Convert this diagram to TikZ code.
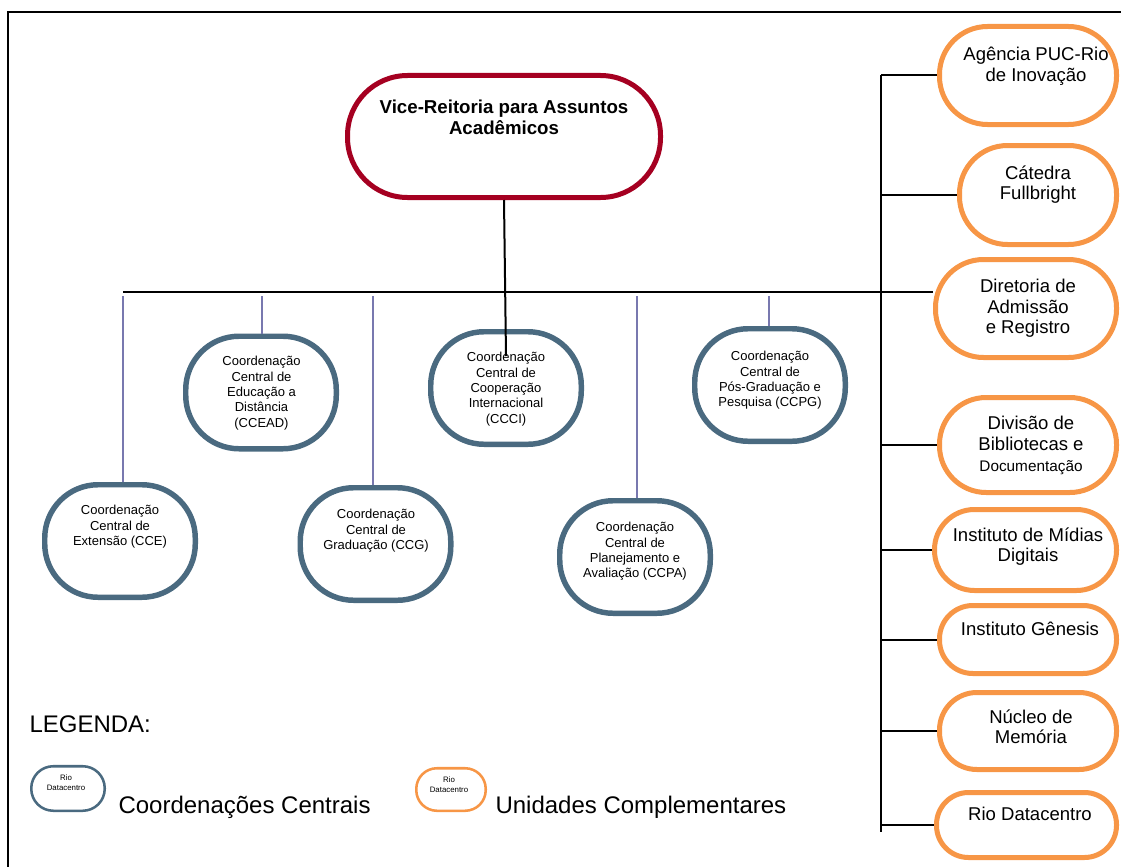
\documentclass[tikz,border=0pt]{standalone}
\usepackage{fontspec}
\setmainfont{Liberation Sans}

\tikzset{every picture/.style={line width=0.75pt}}
\tikzset{
  vrbox/.style={draw={rgb, 255:red, 165; green, 0; blue, 33 }, line width=3.75pt, fill=white, rounded corners=45pt, minimum width=234.75pt, minimum height=91.5pt, inner sep=0pt},
  ccbox/.style={draw={rgb, 255:red, 74; green, 106; blue, 128 }, line width=4.1pt, fill=white, rounded corners=40pt, minimum width=112.9pt, minimum height=84.4pt, inner sep=0pt},
  ucbox/.style={draw={rgb, 255:red, 247; green, 150; blue, 70 }, line width=3.75pt, fill=white, rounded corners=36pt, inner sep=0pt},
  vrtext/.style={anchor=north, inner sep=0pt, align=center, font=\bfseries\fontsize{14}{16.1}\selectfont},
  cctext/.style={anchor=north, inner sep=0pt, align=center, font=\fontsize{9.75}{11.5}\selectfont},
  uctext/.style={anchor=north, inner sep=0pt, align=center, font=\fontsize{13.9}{15.4}\selectfont},
  legtext/.style={anchor=base west, inner sep=0pt, font=\fontsize{18}{21}\selectfont},
  tinytext/.style={anchor=north, inner sep=0pt, align=center, font=\fontsize{5.9}{7.5}\selectfont},
  busline/.style={line width=1.5pt},
  branchline/.style={draw={rgb, 255:red, 120; green, 120; blue, 175 }, line width=1.1pt},
}

\begin{document}
\begin{tikzpicture}[x=0.75pt,y=0.75pt,yscale=-1,xscale=1]
\useasboundingbox (0,0) rectangle (1121,867);
\clip (0,0) rectangle (1121,867);

%Frame
\draw [line width=1.5pt] (8,12) rectangle (1140,890);

%Connector points
\coordinate (busL) at (123,292);
\coordinate (rtop) at (881,75);
\coordinate (rbot) at (881,832);
\coordinate (vend) at (506,356);

%Shape: Vice-Reitoria
\node [vrbox] (vra) at (504,136.5) {};

%Shapes: Coordenacoes Centrais
\node [ccbox] (cce) at (120,541) {};
\node [ccbox] (ccead) at (261,392.5) {};
\node [ccbox] (ccg) at (375.5,544) {};
\node [ccbox] (ccci) at (506,388) {};
\node [ccbox] (ccpa) at (635,557) {};
\node [ccbox] (ccpg) at (770,385) {};

%Shapes: Unidades Complementares
\node [ucbox, minimum width=132.75pt, minimum height=73.5pt] (age) at (1028,75.5) {};
\node [ucbox, minimum width=117.75pt, minimum height=74.25pt] (cat) at (1038,195) {};
\node [ucbox, minimum width=135.75pt, minimum height=73.5pt] (dar) at (1026,308.5) {};
\node [ucbox, minimum width=132.75pt, minimum height=71.25pt, rounded corners=35pt] (dbd) at (1028,445) {};
\node [ucbox, minimum width=136.5pt, minimum height=60.75pt, rounded corners=30pt] (imd) at (1025.5,550) {};
\node [ucbox, minimum width=132.75pt, minimum height=51pt, rounded corners=25pt] (ige) at (1028,639.5) {};
\node [ucbox, minimum width=132.75pt, minimum height=57.75pt, rounded corners=28pt] (nme) at (1028,731) {};
\node [ucbox, minimum width=135pt, minimum height=48.75pt, rounded corners=24pt] (rdc) at (1026.5,825) {};

%Straight Lines: main bus
\draw [busline] (busL) -- (busL -| dar.west);
\foreach \n/\x in {cce/123, ccead/262, ccg/373, ccpa/637, ccpg/769} {
  \coordinate (d-\n) at (\x,296);
  \draw [branchline] (d-\n) -- (d-\n |- \n.north);
}

%Straight Lines: right bus
\draw [busline] (rtop) -- (rbot);
\foreach \n in {age,cat,dbd,imd,ige,nme,rdc}
  \draw [busline] (rtop |- \n.west) -- (\n.west);

%Straight Lines: Vice-Reitoria down
\draw [busline] (vra.south) -- (vend);

% Text Node
\node [vrtext] (vra-t) at (504,99) {Vice-Reitoria para Assuntos\\Acadêmicos};
% Text Node
\node [cctext] (cce-t) at (120,505) {Coordenação\\Central de\\Extensão (CCE)};
\node [cctext] (ccead-t) at (261.5,356) {Coordenação\\Central de\\Educação a\\Distância\\(CCEAD)};
\node [cctext] (ccg-t) at (376,509) {Coordenação\\Central de\\Graduação (CCG)};
\node [cctext] (ccci-t) at (506,352) {Coordenação\\Central de\\Cooperação\\Internacional\\(CCCI)};
\node [cctext] (ccpa-t) at (635,522) {Coordenação\\Central de\\Planejamento e\\Avaliação (CCPA)};
\node [cctext] (ccpg-t) at (770,351) {Coordenação\\Central de\\Pós-Graduação e\\Pesquisa (CCPG)};
% Text Node
\node [uctext] (age-t) at (1036,47) {Agência PUC-Rio\\de Inovação};
\node [uctext] (cat-t) at (1038,165) {Cátedra\\Fullbright};
\node [uctext] (dar-t) at (1028,279) {Diretoria de\\Admissão\\e Registro};
\node [uctext] (dbd-t) at (1031,416) {Divisão de\\Bibliotecas e\\{\fontsize{11.5}{15.4}\selectfont Documentação}};
\node [uctext] (imd-t) at (1028,527) {Instituto de Mídias\\Digitais};
\node [uctext] (ige-t) at (1030,622) {Instituto Gênesis};
\node [uctext] (nme-t) at (1031,709) {Núcleo de\\Memória};
\node [uctext] (rdc-t) at (1030,807) {Rio Datacentro};

%Legend
\node [legtext] (leg) at (29,732) {LEGENDA:};
\node [ccbox, line width=1.9pt, minimum width=55.1pt, minimum height=33.4pt, rounded corners=16.5pt] (legcc) at (68,788.5) {};
\node [tinytext] (legcc-t) at (66,774.5) {Rio\\Datacentro};
\node [legtext] (legcc-l) at (118,813) {Coordenações Centrais};
\node [ucbox, line width=1.9pt, minimum width=52.1pt, minimum height=31.9pt, rounded corners=15.5pt] (leguc) at (451,789.5) {};
\node [tinytext] (leguc-t) at (449,776) {Rio\\Datacentro};
\node [legtext] (leguc-l) at (495,813) {Unidades Complementares};

\end{tikzpicture}
\end{document}
